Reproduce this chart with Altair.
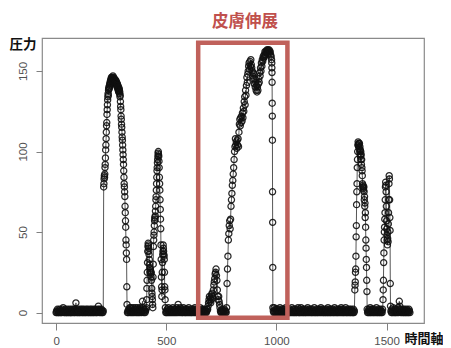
import altair as alt
import pandas as pd

# ---- data (time index -> pressure) ----
# each segment: start time, step between samples, values
base1_start, base1_step = 0, 2
base1 = [0, 1, 0, 2, 1, 0, 0, 1, 2, 0, 1, 0,
         1, 0, 2, 1, 3, 1, 0, 1, 0, 2, 1, 0,
         0, 1, 2, 0, 1, 0, 1, 2, 0, 0, 1, 0,
         2, 1, 0, 1, 2, 0, 1, 0, 2, 6, 1, 0,
         1, 0, 2, 1, 0, 1, 0, 2, 1, 0, 1, 2,
         0, 1, 0, 2, 1, 0, 1, 0, 2, 1, 0, 1,
         2, 0, 1, 0, 1, 2, 0, 1, 0, 2, 1, 0,
         1, 0, 2, 1, 0, 1, 2, 0, 1, 0, 1, 2,
         4, 1, 0, 2, 1, 0, 1, 2, 0, 1, 0, 1]

peak1_start, peak1_step = 216, 1
peak1 = [78, 80, 83, 85, 84, 86, 90, 92, 96, 101,
         104, 108, 112, 116, 118, 123, 126, 129, 132, 134,
         136, 135, 138, 139, 140, 139, 141, 140, 142, 143,
         142, 144, 143, 145, 144, 146, 145, 146, 145, 144,
         146, 145, 147, 145, 144, 146, 145, 144, 145, 144,
         143, 145, 143, 144, 143, 142, 144, 143, 141, 143,
         142, 140, 142, 141, 139, 141, 138, 140, 137, 138,
         138, 139, 136, 137, 134, 135, 131, 128, 126, 122,
         120, 117, 115, 112, 109, 107, 104, 101, 98, 95,
         92, 88, 84, 80, 78, 75, 72, 66, 62, 57,
         53, 45, 42, 37, 33, 16, 5]

base2_start, base2_step = 324, 2
base2 = [0, 1, 0, 2, 1, 3, 0, 1, 3, 0, 2, 1,
         0, 3, 1, 0, 2, 1, 3, 0, 1, 2, 0, 3,
         1, 0, 2, 1, 0, 3, 2, 1, 0, 1, 7, 3,
         1, 0, 2, 1, 0, 1, 2]

peak2_start, peak2_step = 410, 1
peak2 = [3, 8, 15, 20, 25, 31, 38, 41, 43, 42,
         40, 38, 36, 33, 30, 28, 25, 26, 27, 25,
         24, 22, 25, 20, 15, 12, 10, 8, 5, 3,
         22, 30, 41, 45, 48, 50, 54, 57, 59, 58,
         60, 63, 66, 70, 72, 76, 80, 84, 88, 90,
         93, 95, 97, 99, 100, 98, 97, 94, 90, 84,
         80, 76, 70, 64, 58, 52, 42, 33, 22, 16,
         10, 14, 25, 31, 36, 38, 42, 40, 38, 36,
         35, 33, 25, 16, 14, 8, 3]

base3_start, base3_step = 498, 2
base3 = [0, 1, 0, 2, 1, 0, 3, 1, 0, 2, 1, 0,
         2, 1, 0, 1, 3, 0, 2, 1, 0, 1, 2, 0,
         1, 3, 0, 2, 5, 1, 0, 2, 1, 3, 0, 1,
         2, 0, 1, 0, 3, 1, 2, 0, 1, 0, 2, 1,
         0, 2, 1, 0, 3, 1, 0, 1, 2, 0, 1, 0,
         2, 1, 0, 1, 2, 0, 3, 1, 0, 2, 1, 0,
         1, 0, 2, 1, 0, 1, 3, 0, 1, 2, 0, 1,
         0, 2, 1, 0, 1, 2, 0, 1, 0, 1, 2]

bump_start, bump_step = 688, 2
bump = [2, 4, 6, 8, 10, 7, 9, 6, 8, 11,
        12, 10, 9, 14, 17, 19, 21, 24, 25, 27,
        23, 20, 14, 10, 8, 10, 7, 5, 3, 1]

base4_start, base4_step = 748, 2
base4 = [0, 1, 0, 2, 1, 0, 1, 0, 2, 1, 0, 1, 0]

ramp_start, ramp_step = 774, 2
ramp = [3, 18, 27, 35, 45, 49, 54, 57, 52, 58,
        66, 70, 74, 79, 82, 86, 90, 95, 100, 103,
        108, 104, 106, 102, 107, 104, 108, 103, 112, 117,
        120, 116, 121, 118, 122, 119, 124, 121, 127, 125,
        131, 134, 129, 138, 135, 141, 146, 143, 148, 150,
        153, 155, 151, 156, 153, 157, 154, 152, 150, 147,
        149, 145, 148, 142, 145, 140, 143, 138, 141, 137,
        140, 138, 142, 145, 143, 149, 147, 152, 150, 155,
        153, 157, 156, 159, 158, 160, 159, 162, 160, 162,
        161, 163, 162, 163, 161, 163, 162, 163, 161, 162,
        160, 159, 157]

drop_start, drop_step = 979, 0.5
drop = [155, 152, 149, 143, 130, 122, 107, 75, 56, 28, 3]

base5_start, base5_step = 986, 2
base5 = [1, 0, 3, 1, 0, 2, 0, 1, 2, 0, 1, 0,
         2, 1, 0, 3, 1, 0, 1, 2, 0, 1, 0, 2,
         0, 1, 2, 0, 3, 1, 0, 1, 0, 2, 1, 0,
         1, 0, 2, 1, 0, 1, 3, 0, 1, 2, 0, 1,
         0, 2, 1, 0, 1, 0, 2, 1, 3, 0, 1, 0,
         2, 0, 1, 3, 0, 1, 2, 0, 1, 0, 2, 1,
         0, 1, 0, 2, 1, 0, 3, 1, 0, 2, 1, 0,
         1, 2, 0, 1, 0, 2, 1, 0, 1, 3, 0, 1,
         0, 1, 2, 0, 1, 0, 2, 1, 0, 1, 2, 0,
         3, 1, 0, 2, 1, 0, 1, 0, 2, 1, 0, 1,
         0, 2, 1, 0, 3, 0, 1, 2, 0, 1, 0, 2,
         1, 0, 1, 2, 0, 1, 0, 3, 1, 0, 2, 1,
         0, 1, 0, 2, 1, 0, 1, 2, 0, 1, 3, 0,
         2, 1, 0, 1, 0, 2, 1, 0, 3, 1, 0, 1,
         0, 2, 1, 0, 1, 2, 0, 1, 0, 2, 1, 0,
         1, 0, 2, 0, 1]

peak3_start, peak3_step = 1356, 1
peak3 = [14, 17, 19, 25, 27, 35, 47, 54, 67, 75,
         80, 90, 95, 100, 104, 106, 104, 105, 103, 105,
         102, 105, 100, 103, 98, 101, 97, 100, 95, 98,
         92, 95, 90, 88, 85, 80, 78, 79, 77, 78,
         76, 78, 75, 70, 72, 66, 68, 59, 62, 53,
         45, 40, 33, 28, 20, 13, 2]

base6_start, base6_step = 1414, 2
base6 = [0, 1, 0, 2, 1, 0, 3, 0, 1, 2, 0, 1,
         2, 0, 1, 0, 2, 1, 0, 1, 3, 0, 1, 0,
         1, 2, 0, 1, 0, 2, 1, 0, 1, 0, 2]

peak4_start, peak4_step = 1484, 1
peak4 = [8, 14, 20, 31, 37, 45, 50, 53, 58, 62,
         70, 78, 81, 79, 75, 66, 57, 52, 48, 45,
         42, 46, 50, 44, 55, 62, 70, 80, 85, 83,
         70, 59, 51, 18, 4]

base7_start, base7_step = 1520, 2
base7 = [1, 0, 2, 0, 1, 3, 0, 1, 2, 0, 1, 0,
         2, 1, 0, 1, 3, 0, 2, 7, 4, 1, 0, 2,
         1, 0, 1, 2, 0, 1, 0, 2, 1, 0, 1, 0,
         2, 1, 0, 1, 0, 2, 1, 0]

segments = [
    (base1_start, base1_step, base1), (peak1_start, peak1_step, peak1),
    (base2_start, base2_step, base2), (peak2_start, peak2_step, peak2),
    (base3_start, base3_step, base3), (bump_start, bump_step, bump),
    (base4_start, base4_step, base4), (ramp_start, ramp_step, ramp),
    (drop_start, drop_step, drop), (base5_start, base5_step, base5),
    (peak3_start, peak3_step, peak3), (base6_start, base6_step, base6),
    (peak4_start, peak4_step, peak4), (base7_start, base7_step, base7),
]

x_ticks = [0, 500, 1000, 1500]
y_ticks = [0, 50, 100, 150]

highlight_t = [645, 1050]
highlight_v = [-3.3, 167.5]
highlight_label = "皮膚伸展"
y_label = "圧力"
x_label = "時間軸"

rows = []
for start, step, vals in segments:
    for i, v in enumerate(vals):
        rows.append({"t": start + i * step, "v": v})
df = pd.DataFrame(rows)

xs = alt.Scale(domain=[-64, 1670], nice=False, zero=False)
ys = alt.Scale(domain=[-6.5, 170.5], nice=False, zero=False)

x_axis = alt.Axis(values=x_ticks, format="d", title=None, grid=False, domain=False,
                  tickSize=7, tickColor="#808080", tickWidth=1,
                  labelColor="#505050", labelFontSize=11.5, labelPadding=5,
                  labelFont="Liberation Sans", labelFlush=False)
y_axis = alt.Axis(values=y_ticks, format="d", title=None, grid=False, domain=False,
                  tickSize=6, tickColor="#808080", tickWidth=1,
                  labelColor="#505050", labelFontSize=11.5, labelPadding=8,
                  labelAngle=270, labelAlign="center", labelBaseline="bottom",
                  labelFont="Liberation Sans", labelFlush=False)

base = alt.Chart(df)
line = base.mark_line(color="#444444", strokeWidth=0.9).encode(
    x=alt.X("t:Q", scale=xs, axis=x_axis),
    y=alt.Y("v:Q", scale=ys, axis=y_axis),
    order="t:Q",
)
points = base.mark_point(shape="circle", filled=False, size=38,
                         color="#111111", strokeWidth=1.25, opacity=0.9).encode(
    x=alt.X("t:Q", scale=xs),
    y=alt.Y("v:Q", scale=ys),
)

box_df = pd.DataFrame({"t": [highlight_t[0]], "t2": [highlight_t[1]],
                       "v": [highlight_v[0]], "v2": [highlight_v[1]]})
box = alt.Chart(box_df).mark_rect(fillOpacity=0, stroke="#c0615b",
                                  strokeWidth=4.5).encode(
    x=alt.X("t:Q", scale=xs), x2="t2:Q",
    y=alt.Y("v:Q", scale=ys), y2="v2:Q",
)

title_df = pd.DataFrame({"t": [(highlight_t[0] + highlight_t[1]) / 2 + 10],
                         "v": [180.5], "label": [highlight_label]})
title = alt.Chart(title_df).mark_text(
    color="#c0504d", fontSize=16.5, fontWeight="bold",
    font="Noto Sans CJK JP", align="center", baseline="middle").encode(
    x=alt.X("t:Q", scale=xs), y=alt.Y("v:Q", scale=ys), text="label:N")

lab_df = pd.DataFrame({"label": [y_label]})
ylab = alt.Chart(lab_df).mark_text(
    color="#111111", fontSize=13.5, fontWeight="bold",
    font="Noto Sans CJK JP", align="center", baseline="middle").encode(
    x=alt.value(-19), y=alt.value(7), text="label:N")
lab_df2 = pd.DataFrame({"label": [x_label]})
xlab = alt.Chart(lab_df2).mark_text(
    color="#111111", fontSize=13, fontWeight="bold",
    font="Noto Sans CJK JP", align="center", baseline="middle").encode(
    x=alt.value(382), y=alt.value(301), text="label:N")

chart = alt.layer(line, points, box, title, ylab, xlab).properties(
    width=382, height=285,
    autosize=alt.AutoSizeParams(type="none"),
    padding={"left": 34, "top": 30, "right": 19, "bottom": 25},
    background="white",
).configure_view(stroke="#8a8a8a", strokeWidth=1.2)

chart.save("out.html", embed_options={"renderer": "svg", "actions": False})
